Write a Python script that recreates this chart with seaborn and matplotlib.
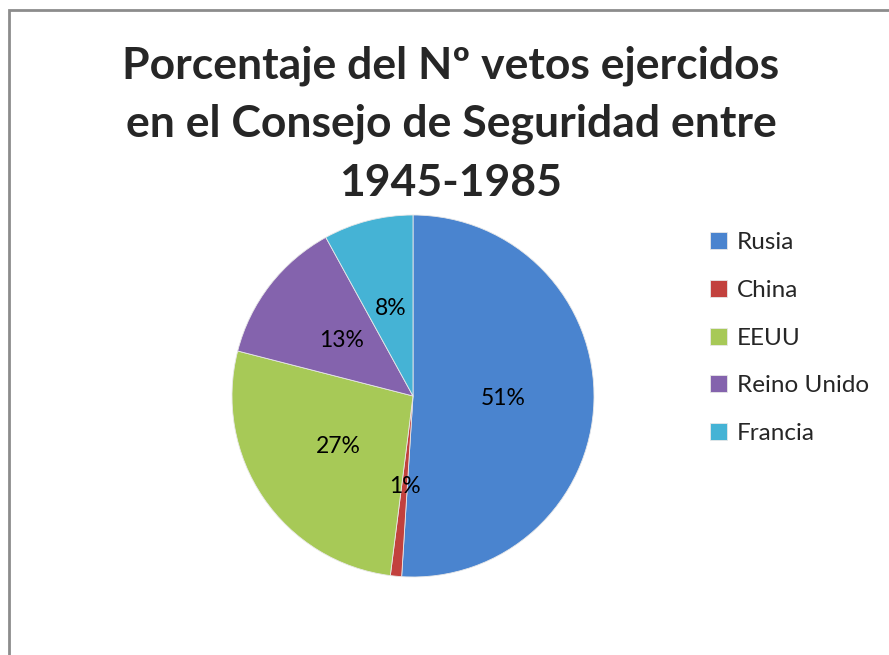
import matplotlib
matplotlib.use("Agg")
import matplotlib.pyplot as plt
import seaborn as sns
from matplotlib.patches import Rectangle

# datos del gráfico
paises = ["Rusia", "China", "EEUU", "Reino Unido", "Francia"]
porcentajes = [51, 1, 27, 13, 8]
colores = ["#4a84cf", "#c2413d", "#a7c957", "#8463ad", "#45b3d5"]
titulo = "Porcentaje del Nº vetos ejercidos\nen el Consejo de Seguridad entre\n1945-1985"

sns.set_theme(style="white")
plt.rcParams['font.family'] = ['Lato', 'DejaVu Sans']

W, H = 889, 655
fig = plt.figure(figsize=(W / 100, H / 100), dpi=100)

# marco gris del área del gráfico
fig.patches.append(Rectangle((9 / W, -0.1), 1.2, 1 - 10 / H + 0.1,
                             transform=fig.transFigure, fill=False,
                             edgecolor="#8c8c8c", linewidth=2))

cx, cy, r = 413, 396, 181
ax = fig.add_axes([(cx - r) / W, (H - cy - r) / H, 2 * r / W, 2 * r / H])

wedges, texts, autotexts = ax.pie(
    porcentajes, colors=colores, startangle=90, counterclock=False,
    autopct="%1.0f%%", pctdistance=0.5,
    wedgeprops=dict(edgecolor="#e8e8e8", linewidth=0.6),
    textprops=dict(fontsize=16.5, color="black"))

ax.set_xlim(-1, 1)
ax.set_ylim(-1, 1)
ax.set_aspect("equal")
ax.axis("off")

fig.text(451 / W, 1 - 124 / H, titulo, ha="center", va="center",
         fontsize=32, fontweight="bold", linespacing=1.55)

fig.legend(wedges, paises, loc="upper left",
           bbox_to_anchor=(698 / W, 1 - 220 / H), frameon=False,
           fontsize=17.5, handlelength=0.7, handleheight=0.7,
           handletextpad=0.4, labelspacing=1.1, borderpad=0)

fig.savefig("out.png", dpi=100)
